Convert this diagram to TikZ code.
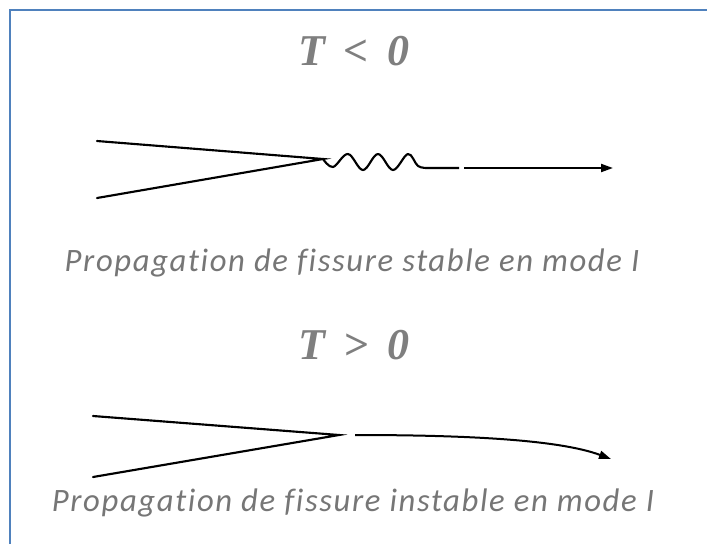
\documentclass[tikz,border=0pt]{standalone}
\usepackage{fontspec}
\usetikzlibrary{arrows.meta}
\newfontfamily\titlefont{Liberation Serif}
\newfontfamily\capfont[LetterSpace=5,Ligatures={NoCommon}]{Carlito}
\definecolor{framecol}{RGB}{79,129,189}
\definecolor{titlegray}{RGB}{127,127,127}
\definecolor{capgray}{RGB}{118,118,118}
\tikzset{
  titletext/.style={font=\titlefont\bfseries\itshape\fontsize{33}{36}\selectfont, text=titlegray, inner sep=0pt, anchor=base},
  captext/.style={font=\capfont\itshape\fontsize{24.5}{28}\selectfont, text=capgray, inner sep=0pt, anchor=base},
  crack/.style={line width=1.6pt, line cap=round},
  arr/.style={line width=1.5pt, -{Triangle[length=9pt,width=6pt]}}
}
\begin{document}
\begin{tikzpicture}[x=0.75pt,y=-0.75pt]
\useasboundingbox (0,0) rectangle (707,544);
\draw[framecol, line width=1.5pt] (10,544) -- (10,10) -- (707,10);
% titles
\node[titletext] (t1) at (354,65) {T \,<\, 0};
\node[titletext] (t2) at (354,359) {T \,>\, 0};
% captions
\node[captext] (c1) at (352,271) {Propagation de fissure stable en mode I};
\node[captext] (c2) at (353,511) {Propagation de fissure instable en mode I};
% upper crack
\coordinate (a1) at (97,141);
\coordinate (a2) at (97,198);
\coordinate (atip) at (323,159);
\coordinate (aflat) at (459,168);
\coordinate (as) at (464,168);
\coordinate (ae) at (613,168);
\draw[crack] (a1) -- (atip) -- (a2);
\draw[line width=1.6pt, line join=round] plot[smooth, tension=0.6] coordinates {(323,159) (333,167) (348,154) (363,170) (378,154) (393,170) (408,154) (418,166) (428,168)} -- (aflat);
\draw[arr] (as) -- (ae);
% lower crack
\coordinate (b1) at (93,416);
\coordinate (b2) at (93,477);
\coordinate (btip) at (339,435);
\coordinate (bs) at (355,435);
\coordinate (be) at (611,459);
\draw[crack] (b1) -- (btip) -- (b2);
\draw[arr] (bs) .. controls (470,435) and (560,440) .. (be);
\end{tikzpicture}
\end{document}
